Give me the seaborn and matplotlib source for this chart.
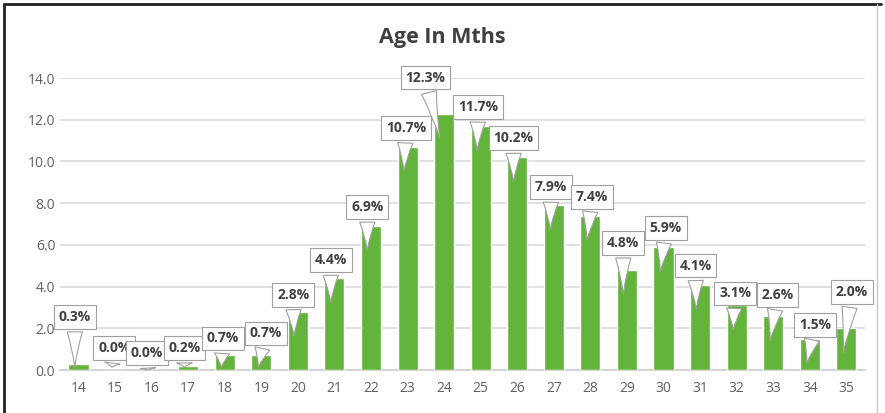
import matplotlib
matplotlib.use('Agg')
import matplotlib.pyplot as plt
import seaborn as sns
import pandas as pd

# ---------- data ----------
ages = [14, 15, 16, 17, 18, 19, 20, 21, 22, 23, 24,
        25, 26, 27, 28, 29, 30, 31, 32, 33, 34, 35]
share = [0.3, 0.0, 0.0, 0.2, 0.7, 0.7, 2.8, 4.4, 6.9, 10.7, 12.3,
         11.7, 10.2, 7.9, 7.4, 4.8, 5.9, 4.1, 3.1, 2.6, 1.5, 2.0]
yticks = [0.0, 2.0, 4.0, 6.0, 8.0, 10.0, 12.0, 14.0]

# callout box offsets (pixels from bar top) - layout only
label_dx = [0, 3, -1, 0, 2, 8, -1, 0, 0, 2, -15,
            1, 0, 1, 5, 0, 6, -1, 2, 8, 9, 9]
label_dy = [47, 22, 17, 18, 17, 22, 17, 18, 19, 19, 36,
            19, 19, 18, 19, 27, 19, 19, 12, 21, 14, 36]

df = pd.DataFrame({'age': [str(a) for a in ages], 'share': share})

sns.set_theme(style='white')
plt.rcParams['font.family'] = ['Open Sans', 'DejaVu Sans']

fig = plt.figure(figsize=(8.85, 4.13), dpi=100)
ax = fig.add_axes([0.068, 0.104, 0.909, 0.707])

sns.barplot(data=df, x='age', y='share', color='#63B43B', width=0.55,
            saturation=1, ax=ax, zorder=3)

ax.set_ylim(0, 14)
ax.set_xlim(-0.5, len(ages) - 0.5)
ax.set_yticks(yticks)
ax.set_yticklabels([f'{t:.1f}' for t in yticks])
ax.yaxis.grid(True, color='#dcdcdc', linewidth=1.2, zorder=0)
ax.set_axisbelow(True)
ax.set_xlabel('')
ax.set_ylabel('')
ax.tick_params(axis='both', colors='#606060', labelsize=10, length=0)
ax.tick_params(axis='x', pad=8)
for s in ['top', 'right', 'left']:
    ax.spines[s].set_visible(False)
ax.spines['bottom'].set_color('#d0d0d0')

# data labels as callouts
for i, v in enumerate(share):
    tip = max(v - 1.3, 0)
    ax.annotate(f'{v:.1f}%', xy=(i - 0.1, tip),
                xytext=(label_dx[i], label_dy[i] + (v - tip) * 20.86),
                textcoords='offset pixels', ha='center', va='center',
                fontsize=10, fontweight='bold', color='#404040',
                annotation_clip=False, zorder=5,
                bbox=dict(boxstyle='square,pad=0.35', fc='white',
                          ec='#a0a0a0', lw=0.8),
                arrowprops=dict(arrowstyle='wedge,tail_width=1.1,shrink_factor=0.4',
                                fc='white', ec='#a0a0a0', lw=0.8))

fig.text(0.5, 0.91, 'Age In Mths', ha='center', va='center',
         fontsize=15.5, fontweight='bold', color='#404040')

# outer frame
fig.add_artist(plt.Line2D([0.004, 0.995], [0.99, 0.99], color='#222222',
                          lw=2, transform=fig.transFigure))
fig.add_artist(plt.Line2D([0.005, 0.005], [0.0, 0.99], color='#222222',
                          lw=2, transform=fig.transFigure))
fig.add_artist(plt.Line2D([0.991, 0.991], [0.0, 0.99], color='#c8c8c8',
                          lw=1, transform=fig.transFigure))

plt.savefig('out.png', dpi=100)
plt.close()
